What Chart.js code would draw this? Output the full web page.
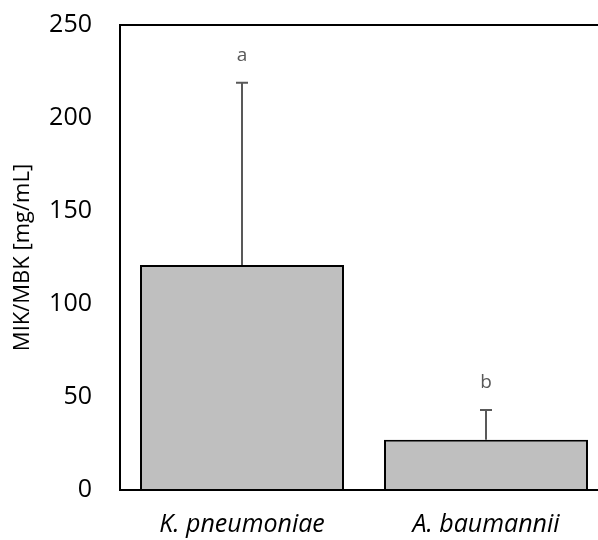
<!DOCTYPE html>
<html>
<head>
<meta charset="utf-8">
<script src="https://cdn.jsdelivr.net/npm/chart.js@4"></script>
<style>
  body { margin: 0; overflow: hidden; background: #fff; }
</style>
</head>
<body>
<canvas id="myChart" width="610" height="540"></canvas>
<script>
// data
var categories = ["K. pneumoniae", "A. baumannii"];
var meanValues = [121, 27];
var errorValues = [98, 16];
var letters = ["a", "b"];
var yTicks = [0, 50, 100, 150, 200, 250];

var FONT = "'Open Sans', 'DejaVu Sans', sans-serif";

// error bars + significance letters, drawn from the scales
var errorBarPlugin = {
  id: "errorBars",
  afterDatasetsDraw: function (chart) {
    var ctx = chart.ctx;
    var xs = chart.scales.x;
    var ys = chart.scales.y;
    ctx.save();
    for (var i = 0; i < meanValues.length; i++) {
      var x = xs.getPixelForValue(i);
      var yTop = ys.getPixelForValue(meanValues[i] + errorValues[i]);
      var yBase = ys.getPixelForValue(meanValues[i]);
      ctx.strokeStyle = "#595959";
      ctx.lineWidth = 2;
      ctx.beginPath();
      ctx.moveTo(x, yBase);
      ctx.lineTo(x, yTop);
      ctx.moveTo(x - 6, yTop);
      ctx.lineTo(x + 6, yTop);
      ctx.stroke();
      ctx.fillStyle = "#595959";
      ctx.font = "19px " + FONT;
      ctx.textAlign = "center";
      ctx.textBaseline = "middle";
      ctx.fillText(letters[i], x, yTop - 27);
    }
    ctx.restore();
  },
};

var ctx = document.getElementById("myChart").getContext("2d");
var myChart = new Chart(ctx, {
  type: "bar",
  data: {
    labels: categories,
    datasets: [
      {
        data: meanValues,
        backgroundColor: "#BFBFBF",
        borderColor: "#000000",
        borderWidth: 2,
        borderSkipped: "bottom",
        categoryPercentage: 1,
        barPercentage: 0.836,
      },
    ],
  },
  options: {
    responsive: false,
    animation: false,
    layout: { padding: { top: 25, right: 2, left: 0, bottom: 0 } },
    plugins: {
      legend: { display: false },
      tooltip: { enabled: false },
    },
    scales: {
      x: {
        grid: { display: false, drawTicks: false },
        border: { color: "#000000", width: 2 },
        ticks: {
          color: "#000000",
          padding: 20,
          font: { family: FONT, size: 25, style: "italic" },
        },
        afterFit: function (scale) {
          scale.height = 50;
        },
      },
      y: {
        min: 0,
        max: 250,
        afterBuildTicks: function (scale) {
          scale.ticks = yTicks.map(function (v) {
            return { value: v };
          });
        },
        grid: {
          drawTicks: true,
          tickLength: 26,
          tickColor: "rgba(0,0,0,0)",
          lineWidth: 2,
          color: function (c) {
            return c.tick && c.tick.value === 250 ? "#000000" : "rgba(0,0,0,0)";
          },
        },
        border: { color: "#000000", width: 2 },
        ticks: {
          color: "#000000",
          padding: 2,
          font: { family: FONT, size: 25 },
        },
        title: {
          display: true,
          text: "MIK/MBK [mg/mL]",
          color: "#000000",
          padding: { top: 10, bottom: 0 },
          font: { family: FONT, size: 22 },
        },
        afterFit: function (scale) {
          scale.width = 120;
        },
      },
    },
  },
  plugins: [errorBarPlugin],
});
</script>
</body>
</html>
